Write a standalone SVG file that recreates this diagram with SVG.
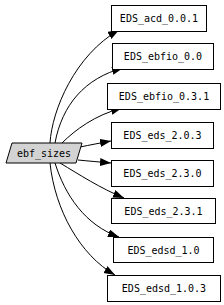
<svg xmlns="http://www.w3.org/2000/svg" width="224" height="305" viewBox="0 0 224 305">
<style>
.box{fill:#fff;stroke:#000;stroke-width:1}
.src{fill:#d3d3d3;stroke:#000;stroke-width:1}
text{font-family:"DejaVu Sans Mono","Liberation Mono",monospace;font-size:10px;text-anchor:middle;fill:#000}
.e{fill:none;stroke:#000;stroke-width:1;marker-end:url(#ah)}
</style>
<defs>
<marker id="ah" markerUnits="userSpaceOnUse" markerWidth="12" markerHeight="9" refX="11" refY="4" orient="auto">
<path d="M0,0 L11,4 L0,8 z" fill="#000"/>
</marker>
</defs>
<rect width="224" height="305" fill="#fff"/>
<g id="edges">
<path class="e" d="M50,143 C52,110 75,55 119,30"/>
<path class="e" d="M55,143 C62,105 85,78 123,68"/>
<path class="e" d="M62,143 C75,130 95,115 122,108"/>
<path class="e" d="M80,147 C90,145 100,143 111,141"/>
<path class="e" d="M78,160 C88,161 100,162 111,163"/>
<path class="e" d="M60,163 C80,175 100,188 124,198"/>
<path class="e" d="M55,163 C65,195 85,225 119,237"/>
<path class="e" d="M50,163 C55,210 80,255 115,275"/>
</g>
<g id="ebf_sizes"><polygon class="src" points="12,143 82,143 76,163 6,163"/><text x="44" y="157">ebf_sizes</text></g>
<g id="n1"><rect class="box" x="111.5" y="5.5" width="95" height="26"/><text x="159" y="22">EDS_acd_0.0.1</text></g>
<g id="n2"><rect class="box" x="112.5" y="43.5" width="101" height="26"/><text x="163" y="60">EDS_ebfio_0.0</text></g>
<g id="n3"><rect class="box" x="107.5" y="83.5" width="113" height="26"/><text x="164" y="100">EDS_ebfio_0.3.1</text></g>
<g id="n4"><rect class="box" x="111.5" y="122.5" width="102" height="26"/><text x="162.5" y="139">EDS_eds_2.0.3</text></g>
<g id="n5"><rect class="box" x="111.5" y="160.5" width="102" height="26"/><text x="162.5" y="177">EDS_eds_2.3.0</text></g>
<g id="n6"><rect class="box" x="111.5" y="198.5" width="104" height="25"/><text x="163.5" y="215">EDS_eds_2.3.1</text></g>
<g id="n7"><rect class="box" x="113.5" y="237.5" width="100" height="25"/><text x="163.5" y="254">EDS_edsd_1.0</text></g>
<g id="n8"><rect class="box" x="107.5" y="275.5" width="113" height="26"/><text x="164" y="292">EDS_edsd_1.0.3</text></g>
</svg>
